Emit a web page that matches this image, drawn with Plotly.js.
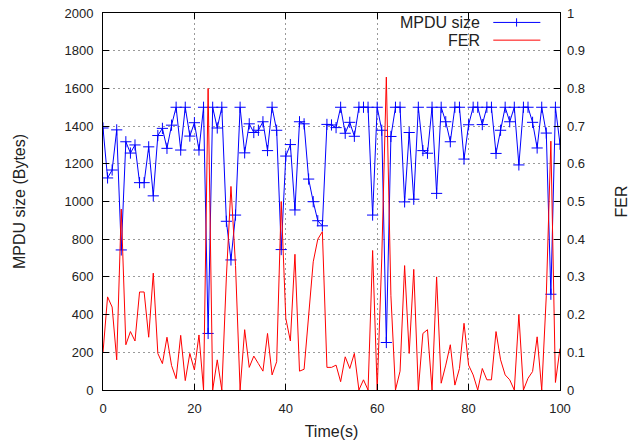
<!DOCTYPE html>
<html>
<head>
<meta charset="utf-8">
<script src="https://cdn.plot.ly/plotly-3.0.1.min.js"></script>
<style>
html,body{margin:0;padding:0;background:#fff;}
#chart{width:636px;height:443px;}
</style>
</head>
<body>
<div id="chart"></div>
<script>
// Time in seconds
var timeSec = [];
for (var i = 0; i <= 100; i++) timeSec.push(i);

// MPDU size (Bytes), left axis
var mpduSize = [
  1390, 1125, 1167, 1380, 743, 1317, 1257, 1300, 1100, 1100,
  1290, 1030, 1350, 1388, 1282, 1405, 1500, 1273, 1500, 1347,
  1418, 1273, 1500, 300, 1500, 1390, 1500, 895, 690, 928,
  1500, 1258, 1412, 1366, 1378, 1423, 1270, 1500, 1378, 745,
  1241, 1302, 955, 1423, 1412, 1119, 999, 898, 871, 1409,
  1406, 1392, 1500, 1362, 1420, 1346, 1500, 1500, 1500, 928,
  1500, 1378, 252, 1345, 1500, 1500, 998, 1366, 1012, 1500,
  1270, 1256, 1500, 1043, 1500, 1423, 1317, 1500, 1500, 1225,
  1407, 1500, 1500, 1408, 1500, 1500, 1255, 1378, 1500, 1423,
  1500, 1194, 1500, 1500, 1420, 1284, 1500, 1363, 508, 1500,
  1304
];

// Frame error rate, right axis
var fer = [
  0.10, 0.247, 0.22, 0.08, 0.48, 0.12, 0.155, 0.13, 0.26, 0.26,
  0.14, 0.31, 0.097, 0.07, 0.14, 0.065, 0.03, 0.145, 0.025, 0.097,
  0.053, 0.146, 0.0, 0.80, 0.0, 0.08, 0.0, 0.30, 0.54, 0.33,
  0.0, 0.16, 0.06, 0.09, 0.07, 0.05, 0.15, 0.04, 0.075, 0.50,
  0.19, 0.13, 0.36, 0.05, 0.055, 0.21, 0.34, 0.40, 0.42, 0.06,
  0.06, 0.066, 0.022, 0.088, 0.057, 0.097, 0.0, 0.027, 0.0, 0.37,
  0.0, 0.35, 0.83, 0.25, 0.0, 0.05, 0.33, 0.097, 0.32, 0.0,
  0.15, 0.16, 0.0, 0.30, 0.018, 0.066, 0.12, 0.013, 0.057, 0.177,
  0.066, 0.04, 0.0, 0.057, 0.027, 0.027, 0.155, 0.08, 0.04, 0.027,
  0.0, 0.20, 0.0, 0.031, 0.049, 0.141, 0.0, 0.25, 0.66, 0.02,
  0.11
];

var seriesNames = ["MPDU size", "FER"];
var xTitle = "Time(s)";
var yTitle = "MPDU size (Bytes)";
var y2Title = "FER";

var fontFam = "Liberation Sans, Arial, sans-serif";
var txtCol = "#222";
var titleFont = {family: fontFam, size: 16, color: txtCol};

var traces = [
  {
    x: timeSec, y: mpduSize, name: seriesNames[0], type: "scatter", mode: "lines+markers",
    yaxis: "y",
    line: {color: "#0000ff", width: 1},
    marker: {symbol: "cross-thin", size: 8, color: "#0000ff", line: {color: "#0000ff", width: 1}},
    showlegend: false
  },
  {
    x: timeSec, y: fer, name: seriesNames[1], type: "scatter", mode: "lines",
    yaxis: "y2",
    line: {color: "#ff0000", width: 1},
    showlegend: false
  }
];

var axisCommon = {
  ticks: "inside", ticklen: 6, tickcolor: "#000", tickwidth: 1,
  showline: true, linecolor: "#000", linewidth: 1,
  zeroline: false,
  tickfont: {family: fontFam, size: 13, color: txtCol}
};

var gridStyle = {showgrid: true, gridcolor: "#9a9a9a", griddash: "2px,3px", gridwidth: 1};

var layout = {
  width: 636, height: 443,
  margin: {l: 103, r: 76, t: 13, b: 53},
  paper_bgcolor: "#fff", plot_bgcolor: "#fff",
  font: {family: fontFam, size: 13, color: txtCol},
  xaxis: Object.assign({}, axisCommon, gridStyle, {
    range: [0, 100], dtick: 20, tick0: 0, mirror: "ticks",
    ticklabelstandoff: 6,
    title: {text: xTitle, font: titleFont, standoff: 11}
  }),
  yaxis: Object.assign({}, axisCommon, gridStyle, {
    range: [0, 2000], dtick: 200, tick0: 0, mirror: true,
    ticklabelstandoff: 6,
    title: {text: yTitle, font: titleFont, standoff: 34}
  }),
  yaxis2: Object.assign({}, axisCommon, {
    range: [0, 1], dtick: 0.1, tick0: 0, overlaying: "y", side: "right",
    showgrid: false, showline: false,
    ticklabelstandoff: 6,
    title: {text: y2Title, font: titleFont, standoff: 31}
  }),
  shapes: [
    {type: "line", xref: "paper", yref: "paper", x0: 0.854, x1: 0.957, y0: 0.975, y1: 0.975,
     line: {color: "#0000ff", width: 1}},
    {type: "line", xref: "paper", yref: "paper", x0: 0.905, x1: 0.905, y0: 0.964, y1: 0.986,
     line: {color: "#0000ff", width: 1}},
    {type: "line", xref: "paper", yref: "paper", x0: 0.854, x1: 0.957, y0: 0.928, y1: 0.928,
     line: {color: "#ff0000", width: 1}}
  ],
  annotations: [
    {xref: "paper", yref: "paper", x: 0.83, y: 0.975, xanchor: "right", yanchor: "middle",
     text: seriesNames[0], showarrow: false, font: titleFont},
    {xref: "paper", yref: "paper", x: 0.83, y: 0.928, xanchor: "right", yanchor: "middle",
     text: seriesNames[1], showarrow: false, font: titleFont}
  ]
};

Plotly.newPlot("chart", traces, layout, {displayModeBar: false, staticPlot: true});
</script>
</body>
</html>
